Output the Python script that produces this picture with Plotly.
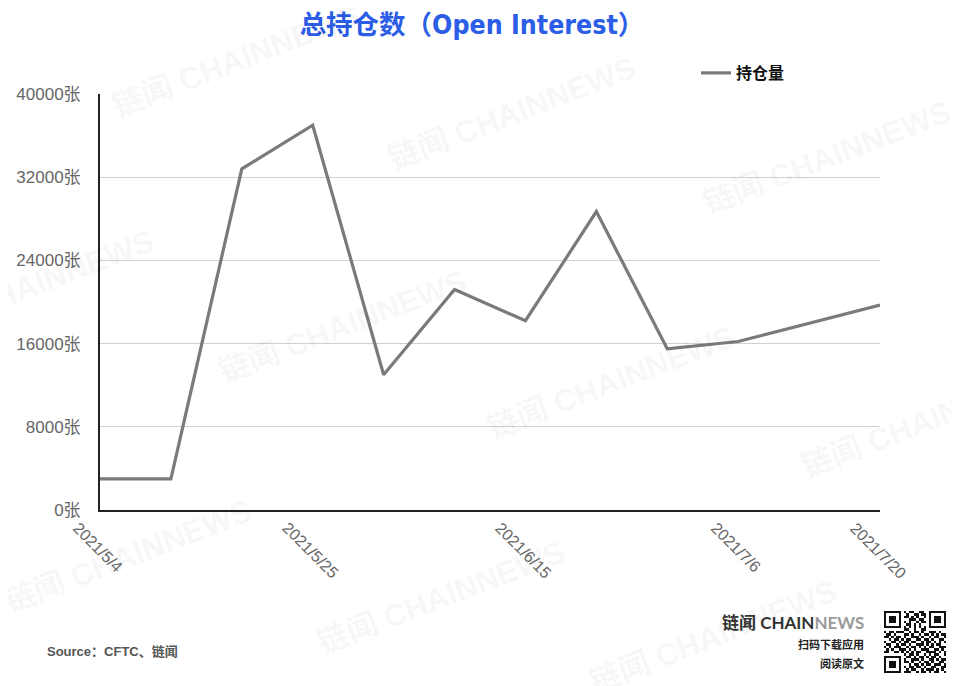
import plotly.graph_objects as go

# ---------------- data ----------------
dates = ["2021-05-04", "2021-05-11", "2021-05-18", "2021-05-25", "2021-06-01",
         "2021-06-08", "2021-06-15", "2021-06-22", "2021-06-29", "2021-07-06",
         "2021-07-20"]
open_interest = [3000, 3000, 32800, 37000, 13000, 21200, 18200, 28700, 15500,
                 16200, 19700]
series_name = "持仓量"
x_tick_dates = ["2021-05-04", "2021-05-25", "2021-06-15", "2021-07-06", "2021-07-20"]
x_tick_labels = ["2021/5/4", "2021/5/25", "2021/6/15", "2021/7/6", "2021/7/20"]
y_tick_vals = [0, 8000, 16000, 24000, 32000, 40000]
y_suffix = "张"
y_tick_text = [f"{v}{y_suffix}" for v in y_tick_vals]
title_text = "总持仓数（Open Interest）"
source_text = "Source：CFTC、链闻"
watermark_text = "链闻 CHAINNEWS"

# decorative QR-like block (hand-typed pattern)
F = ["1111111", "1000001", "1011101", "1011101", "1011101", "1000001", "1111111"]
top_data = ["101100110", "010011011", "110101001", "001110110", "101001011",
            "011010100", "101010101"]
mid_rows = ["0000000" + "0" + "110010011" + "0" + "0000000",
            "1011011100101101001110100",
            "0110100011010010110101011",
            "1101011010011101001011001",
            "0010110101100110110100110",
            "1001101011011001011010101",
            "0110010110100111010101100",
            "1010111001011010101100111",
            "0101001110101001110011010",
            "1100110101010110011110101",
            "00000000" + "10110100101011001"]
bot_data = ["01101011010110100", "10011101001101011", "11010010110100110",
            "00101101011011101", "10110110100110011", "01011001011101010",
            "11100101101011001"]

W, H = 960, 686
OFF = 8  # page body offset


def px_x(p):
    return (p - OFF) / W


def px_y(p):
    return 1 - (p - OFF) / H


qr_rows = []
for i in range(7):
    qr_rows.append(F[i] + "0" + top_data[i] + "0" + F[i])
qr_rows += mid_rows
for i in range(7):
    qr_rows.append(F[i] + "0" + bot_data[i])
qr_rows = [(r + "0" * 25)[:25] for r in qr_rows[:25]]
qr_z = [[int(c) for c in r] for r in qr_rows]

fig = go.Figure()
fig.add_trace(go.Scatter(
    x=dates, y=open_interest, mode="lines", name=series_name,
    line=dict(color="#7a7a7a", width=3.2), xaxis="x", yaxis="y",
))
fig.add_trace(go.Heatmap(
    z=qr_z, colorscale=[[0, "white"], [1, "#111111"]], showscale=False,
    xaxis="x2", yaxis="y2", hoverinfo="skip", showlegend=False,
))

annotations = []
# watermarks
wm_centers = [(236, 60), (512, 113), (827, 157),
              (30, 286), (343, 327), (611, 382), (925, 421),
              (128, 556), (441, 597), (713, 636)]
for cx, cy in wm_centers:
    annotations.append(dict(
        text=watermark_text, x=px_x(cx), y=px_y(cy), xref="paper", yref="paper",
        xanchor="center", yanchor="middle", showarrow=False, textangle=-21,
        font=dict(family="Liberation Sans, Noto Sans CJK SC", size=31,
                  color="rgba(0,0,0,0.05)", weight="bold"),
    ))

# rotated x tick labels (centred on tick)
for d, lab in zip(x_tick_dates, x_tick_labels):
    L = sum(4.45 if ch == "/" else 8.9 for ch in lab)
    cy = 525 + 0.354 * L
    annotations.append(dict(
        text=lab, x=d, xref="x", y=px_y(cy), yref="paper", xshift=-2,
        xanchor="center", yanchor="middle", showarrow=False, textangle=45,
        font=dict(family="Liberation Sans, Arial", size=16, color="#666666"),
    ))

# source
annotations.append(dict(
    text=source_text, x=px_x(45), y=px_y(651), xref="paper", yref="paper",
    xanchor="left", yanchor="middle", showarrow=False,
    font=dict(family="Liberation Sans, Noto Sans CJK SC",
              size=13, color="#555555", weight="bold"),
))
# logo
annotations.append(dict(
    text="链闻 CHAIN<span style='color:#9a9a9a'>NEWS</span>",
    x=px_x(866), y=px_y(622), xref="paper", yref="paper",
    xanchor="right", yanchor="middle", showarrow=False,
    font=dict(family="Lato, Liberation Sans, Noto Sans CJK SC", size=17,
              color="#333333", weight="bold"),
))
annotations.append(dict(
    text="扫码下载应用", x=px_x(866), y=px_y(644), xref="paper", yref="paper",
    xanchor="right", yanchor="middle", showarrow=False,
    font=dict(family="Noto Sans CJK SC", size=11, color="#222222", weight="bold"),
))
annotations.append(dict(
    text="阅读原文", x=px_x(866), y=px_y(663), xref="paper", yref="paper",
    xanchor="right", yanchor="middle", showarrow=False,
    font=dict(family="Noto Sans CJK SC", size=11, color="#222222", weight="bold"),
))

fig.update_layout(
    width=W, height=H,
    margin=dict(l=0, r=0, t=0, b=0, pad=0, autoexpand=False),
    paper_bgcolor="white", plot_bgcolor="white",
    title=dict(
        text=title_text, x=(472 - OFF) / W, xref="container", xanchor="center",
        y=1 - (25 - OFF) / H, yref="container", yanchor="middle",
        font=dict(family="DejaVu Sans Condensed, Noto Sans CJK SC", size=26.5,
                  color="#2b5de6", weight="bold"),
    ),
    xaxis=dict(
        type="date", domain=[px_x(100), px_x(880)],
        range=["2021-05-04", "2021-07-20"],
        showgrid=False, zeroline=False, showticklabels=False,
        showline=True, linecolor="#222222", linewidth=2,
        ticks="", fixedrange=True, automargin=False,
    ),
    yaxis=dict(
        domain=[px_y(510), px_y(94)], range=[0, 40000],
        tickvals=y_tick_vals, ticktext=y_tick_text,
        showgrid=True, gridcolor="#d0d0d0", gridwidth=1,
        zeroline=False, showline=True, linecolor="#222222", linewidth=2,
        ticks="", ticklabelstandoff=14, automargin=False,
        tickfont=dict(family="Liberation Sans, Noto Sans CJK SC", size=17,
                      color="#666666"),
    ),
    xaxis2=dict(domain=[px_x(884), px_x(946)], visible=False, anchor="y2"),
    yaxis2=dict(domain=[px_y(673), px_y(611)], visible=False, anchor="x2",
                autorange="reversed"),
    showlegend=True,
    legend=dict(
        x=px_x(696), y=px_y(73), xanchor="left", yanchor="middle",
        orientation="h", itemwidth=30, bgcolor="rgba(0,0,0,0)",
        font=dict(family="Noto Sans CJK SC", size=16, color="#111111",
                  weight="bold"),
    ),
    annotations=annotations,
)

fig.write_html("out.html")
